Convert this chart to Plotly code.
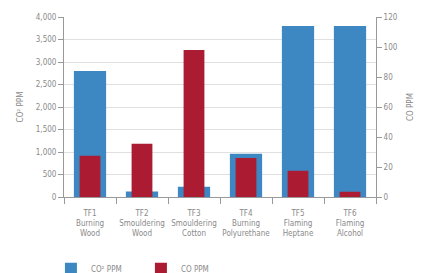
import plotly.graph_objects as go

categories = ["TF1<br>Burning<br>Wood", "TF2<br>Smouldering<br>Wood", "TF3<br>Smouldering<br>Cotton",
              "TF4<br>Burning<br>Polyurethane", "TF5<br>Flaming<br>Heptane", "TF6<br>Flaming<br>Alcohol"]
co2_ppm = [2800, 120, 230, 960, 3800, 3800]
co_ppm = [27.5, 35.5, 98, 26, 17.5, 3.5]

blue = "#3d88c3"
red = "#ab1c33"
grey = "#8a8a8a"
font = dict(family="DejaVu Sans Condensed", size=8, color=grey)

fig = go.Figure()
fig.add_trace(go.Bar(x=categories, y=co2_ppm, name="CO² PPM", marker=dict(color=blue, line_width=0),
                     width=0.62, yaxis="y"))
fig.add_trace(go.Bar(x=categories, y=co_ppm, name="CO PPM", marker=dict(color=red, line_width=0),
                     width=0.4, yaxis="y2"))

fig.update_layout(
    width=428, height=273,
    margin=dict(l=64, r=52, t=17, b=76),
    plot_bgcolor="white", paper_bgcolor="white",
    font=font,
    barmode="overlay",
    showlegend=True,
    legend=dict(orientation="h", xref="container", yref="container", x=0.119, xanchor="left",
                y=0.016, yanchor="middle",
                entrywidth=45, entrywidthmode="pixels", font=dict(size=8, color=grey),
                itemsizing="constant"),
    xaxis=dict(showline=True, linecolor="#999", linewidth=1, ticks="outside", tickson="boundaries",
               ticklen=6, tickcolor="#999", showgrid=False, tickangle=0, automargin=False,
               ticklabelstandoff=8, tickfont=dict(size=8, color=grey)),
    yaxis=dict(range=[0, 4000], tick0=0, dtick=500, tickformat=",", showline=True, linecolor="#999",
               ticks="outside", ticklen=5, tickcolor="#999", gridcolor="#e0e0e0", gridwidth=1,
               zeroline=False, automargin=False, tickfont=dict(size=8, color=grey),
               title=dict(text="CO² PPM", font=dict(size=8, color=grey), standoff=10)),
    yaxis2=dict(range=[0, 120], dtick=20, overlaying="y", side="right", showline=True,
                linecolor="#999", ticks="outside", ticklen=5, tickcolor="#999", showgrid=False,
                zeroline=False, automargin=False, tickfont=dict(size=8, color=grey),
                title=dict(text="CO PPM", font=dict(size=8, color=grey), standoff=10)),
)

fig.write_html("out.html", config={"displayModeBar": False},
               post_script="document.body.style.margin='0';")
